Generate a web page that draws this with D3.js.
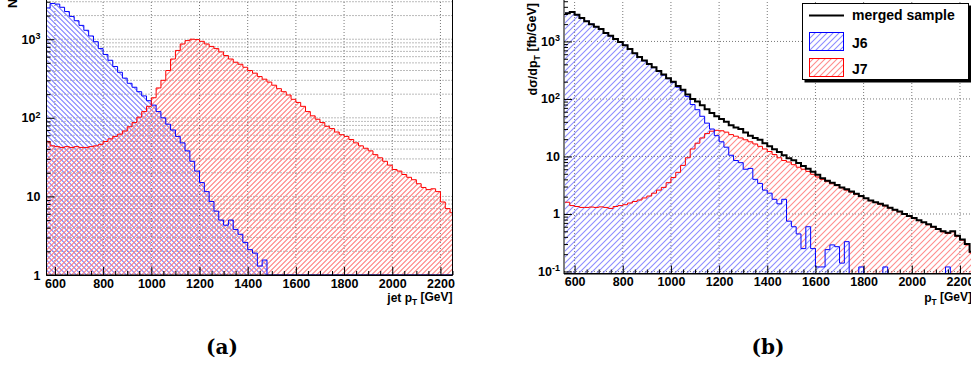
<!DOCTYPE html>
<html>
<head>
<meta charset="utf-8">
<script src="https://cdn.jsdelivr.net/npm/d3@7"></script>
<style>
  body { margin: 0; background: #fff; }
  svg { display: block; font-family: "Liberation Sans", Arial, sans-serif; font-weight: bold; }
</style>
</head>
<body>
<svg id="chart" width="971" height="367"></svg>
<script>
// histogram binning (GeV)
const binStart = 560;
const binWidth = 20;

// (a) jet pT spectra, events per bin
const j6A = [2500,2850,2800,2550,2250,1950,1720,1500,1300,1100,
  930,760,640,540,450,380,320,275,245,215,
  190,165,145,120,100,83,70,58,48,38,
  28,21,15,11.5,8.6,6.5,5,4.3,5,3.8,
  3.3,2.6,2.1,1.9,1.3,1.55,0,0,0,0,
  0,0,0,0,0,0,0,0,0,0,
  0,0,0,0,0,0,0,0,0,0,
  0,0,0,0,0,0,0,0,0,0,
  0,0,0,0,0];
const j7A = [50,44,43,42,43,42,43,42,42,43,
  44,46,50,54,58,62,68,77,87,102,
  120,140,180,240,300,400,560,720,870,960,
  1000,990,940,870,810,760,690,620,560,510,
  480,440,400,370,335,310,285,260,235,215,
  195,172,157,140,120,106,96,87,78,73,
  66,61,58,53,48,44,41,38,34,31,
  28,25,22,21,19,17.5,16.3,14.5,13,12.2,
  12.5,11.5,8.5,7,6.2];

// (b) dsigma/dpT [fb/GeV]
const j6B = [3100,3250,2900,2550,2250,2000,1800,1650,1400,1250,
  1100,980,860,740,620,530,460,400,350,300,
  260,225,195,160,138,110,80,65,50,38,
  30,23,18,14.5,10.5,8.5,7.8,6,6.2,4,
  3.4,2.6,2.3,1.8,1.5,1.8,0.75,0.6,0.45,0.25,
  0.6,0.25,0.12,0.12,0.24,0.29,0.27,0.14,0.33,0,
  0,0.12,0,0,0,0,0.12,0,0,0,
  0,0,0,0,0,0,0,0,0,0.12,
  0,0,0,0,0];
const j7B = [1.6,1.4,1.35,1.3,1.3,1.32,1.3,1.33,1.3,1.25,
  1.35,1.4,1.45,1.55,1.65,1.75,1.9,2.05,2.3,2.6,
  2.9,3.5,4.3,5.3,7,9.5,13.5,17,21,25,
  27.5,28.5,28,26.5,24,22.5,21,19.5,18,16.5,
  15,13.5,12.2,10.8,9.5,8.5,8,7.2,6.5,6,
  5.5,4.9,4.4,4,3.65,3.35,3.1,2.85,2.6,2.4,
  2.2,2,1.85,1.7,1.58,1.48,1.38,1.27,1.17,1.09,
  0.99,0.91,0.84,0.77,0.71,0.65,0.59,0.54,0.49,0.46,
  0.49,0.41,0.35,0.29,0.21];
const mergedB = [3100,3250,2900,2550,2250,2000,1800,1650,1400,1250,
  1100,980,860,740,625,535,465,405,355,305,
  265,230,200,168,145,120,100,90,78,66,
  57,50,45,40,35,32,30,26,23,21,
  19.5,17,15,13.4,12,10.5,9.3,8.6,7.7,6.8,
  6.1,5.4,4.8,4.2,3.8,3.5,3.2,2.9,2.7,2.45,
  2.25,2.05,1.88,1.72,1.6,1.5,1.4,1.28,1.18,1.1,
  1,0.92,0.85,0.78,0.72,0.66,0.6,0.55,0.5,0.47,
  0.5,0.42,0.36,0.3,0.22];

const xTicks = [600,800,1000,1200,1400,1600,1800,2000,2200];
const legendLabels = ["merged sample", "J6", "J7"];
const captions = ["(a)", "(b)"];

const svg = d3.select("#chart");
svg.append("rect").attr("width", 971).attr("height", 367).attr("fill", "#fff");
const defs = svg.append("defs");

// hatched fill: diagonal lines clipped to a shape
let clipCount = 0;
function hatchFill(parent, shapeD, color, spacing, dir, x0, x1) {
  const id = "hatch" + (clipCount++);
  defs.append("clipPath").attr("id", id).append("path").attr("d", shapeD);
  const h = 300;
  const gg = parent.append("g").attr("clip-path", `url(#${id})`);
  gg.selectAll("line").data(d3.range(x0 - h, x1 + 1, spacing)).join("line")
    .attr("stroke", color).attr("stroke-width", 1.1)
    .attr("x1", d => d).attr("x2", d => d + h)
    .attr("y1", dir === "/" ? h : 0).attr("y2", dir === "/" ? 0 : h);
}

const edges = d3.range(j6A.length + 1).map(i => binStart + i * binWidth);

// [edge, value, value of the histogram drawn over it]
function stepPoints(values, under) {
  const n = values.length;
  const pts = values.map((v, i) => [edges[i], v, under ? under[i] : 0]);
  pts.push([edges[n], values[n - 1], under ? under[n - 1] : 0]);
  return pts;
}

function supLabel(sel, d) {
  const e = Math.round(Math.log10(d));
  sel.text("");
  if (e === 0) sel.text("1");
  else if (e === 1) sel.text("10");
  else {
    sel.append("tspan").text("10");
    sel.append("tspan").attr("dy", "-0.5em").attr("font-size", "0.72em").text(e);
  }
}

function panel(cfg) {
  const g = svg.append("g");
  const x = d3.scaleLinear().domain(cfg.xDomain).range([cfg.left, cfg.right]);
  const y = d3.scaleLog().domain(cfg.yDomain).range([cfg.bottom, cfg.top]);
  const ymin = cfg.yDomain[0];
  const yv = v => y(Math.max(v, ymin));

  const clipId = "clip" + cfg.name;
  defs.append("clipPath").attr("id", clipId).append("rect")
    .attr("x", cfg.left).attr("y", cfg.top - 5)
    .attr("width", cfg.right - cfg.left).attr("height", cfg.bottom - cfg.top + 6);

  // grid
  const grid = g.append("g").attr("stroke", "#555").attr("stroke-width", 0.8)
    .attr("stroke-dasharray", "1,2");
  grid.selectAll(".gx").data(xTicks).join("line")
    .attr("x1", d => x(d)).attr("x2", d => x(d))
    .attr("y1", cfg.top).attr("y2", cfg.bottom);
  grid.selectAll(".gy").data(cfg.gridY).join("line")
    .attr("x1", cfg.left).attr("x2", cfg.right)
    .attr("y1", d => y(d)).attr("y2", d => y(d));

  const plot = g.append("g").attr("clip-path", `url(#${clipId})`);
  // hatched region between the histogram drawn over it (if any) and the bin value
  const area = d3.area().curve(d3.curveStepAfter)
    .x(d => x(d[0]))
    .y0(d => d[2] > 0 ? yv(Math.min(d[2], d[1])) : cfg.bottom)
    .y1(d => yv(d[1]));
  const line = d3.line().curve(d3.curveStepAfter)
    .x(d => x(d[0])).y(d => yv(d[1]));

  cfg.hists.filter(h => h.hatch).forEach(h => {
    hatchFill(plot, area(stepPoints(h.values, h.under)), h.hatch, cfg.spacing, h.dir, cfg.left, cfg.right);
  });
  cfg.hists.forEach(h => {
    plot.append("path").attr("d", line(stepPoints(h.values)))
      .attr("fill", "none").attr("stroke", h.stroke).attr("stroke-width", h.width);
  });

  // axes
  const minorX = d3.range(600, 2251, 50).filter(v => v % 200 !== 0 && v >= cfg.xDomain[0]);
  g.append("g").attr("transform", `translate(0,${cfg.bottom})`)
    .call(d3.axisBottom(x).tickValues(minorX).tickSize(-4).tickFormat(""))
    .call(a => a.select(".domain").remove());
  const gx = g.append("g").attr("transform", `translate(0,${cfg.bottom})`)
    .call(d3.axisBottom(x).tickValues(xTicks).tickSize(-8).tickPadding(4).tickFormat(d3.format("d")))
    .call(a => a.select(".domain").remove());
  gx.selectAll("text").attr("font-size", 12.5).attr("font-family", null).attr("fill", "#000");

  const minorY = [];
  cfg.decades.forEach(dec => d3.range(2, 10).forEach(m => {
    const v = m * dec;
    if (v > ymin && v < cfg.yDomain[1]) minorY.push(v);
  }));
  g.append("g").attr("transform", `translate(${cfg.left},0)`)
    .call(d3.axisLeft(y).tickValues(minorY).tickSize(-4).tickFormat(""))
    .call(a => a.select(".domain").remove());
  const gy = g.append("g").attr("transform", `translate(${cfg.left},0)`)
    .call(d3.axisLeft(y).tickValues(cfg.decades).tickSize(-8).tickPadding(cfg.yPad))
    .call(a => a.select(".domain").remove());
  gy.selectAll("text").attr("font-size", 12.5).attr("font-family", null).attr("fill", "#000")
    .each(function (d) { supLabel(d3.select(this), d); });

  // frame
  g.append("rect").attr("x", cfg.left).attr("y", cfg.top)
    .attr("width", cfg.right - cfg.left).attr("height", cfg.bottom - cfg.top)
    .attr("fill", "none").attr("stroke", "#000").attr("stroke-width", 1);
  g.append("line").attr("x1", cfg.left).attr("x2", cfg.right)
    .attr("y1", cfg.bottom + 0.5).attr("y2", cfg.bottom + 0.5)
    .attr("stroke", "#000").attr("stroke-width", 1);

  // x title
  const xt = g.append("text").attr("x", cfg.right).attr("y", 302)
    .attr("text-anchor", "end").attr("font-size", 12);
  xt.append("tspan").text(cfg.xTitle);
  xt.append("tspan").attr("dy", "0.35em").attr("font-size", "0.7em").text("T");
  xt.append("tspan").attr("dy", "-0.35em").text(" [GeV]");
}

// panel (a)
const decA = [1, 10, 100, 1000];
const gridA = [];
decA.forEach(dec => d3.range(1, 10).forEach(m => { if (m * dec < 3250) gridA.push(m * dec); }));
panel({
  name: "A", left: 46.5, right: 452.5, top: -1, bottom: 275,
  xDomain: [565, 2250], yDomain: [1, 3250], spacing: 5,
  decades: decA, gridY: gridA, yPad: 6, xTitle: "jet p",
  hists: [
    { values: j6A, hatch: "#7c7cff", dir: "\\", stroke: "#0000ff", width: 1 },
    { values: j7A, hatch: "#ff7c7c", dir: "/", stroke: "#ff0000", width: 1 }
  ]
});
// clipped y title of (a)
svg.append("text").attr("transform", "translate(17,8) rotate(-90)")
  .attr("font-size", 13).text("N");

// panel (b): J6 hatch lies over J7, so J7 hatch only shows above J6
const decB = [0.1, 1, 10, 100, 1000];
panel({
  name: "B", left: 564, right: 972, top: -1, bottom: 273.5,
  xDomain: [556, 2250], yDomain: [0.0923, 5470], spacing: 6,
  decades: decB, gridY: decB, yPad: 4, xTitle: "p",
  hists: [
    { values: j7B, under: j6B, hatch: "#ff8c8c", dir: "/", stroke: "#ff0000", width: 1 },
    { values: j6B, hatch: "#8c8cff", dir: "/", stroke: "#0000ff", width: 1 },
    { values: mergedB, hatch: null, stroke: "#000", width: 2 }
  ]
});

// y title of (b)
const yt = svg.append("text").attr("transform", "translate(537,3) rotate(-90)")
  .attr("text-anchor", "end").attr("font-size", 12.5);
yt.append("tspan").text("d\u03c3/dp");
yt.append("tspan").attr("dy", "0.35em").attr("font-size", "0.7em").text("T");
yt.append("tspan").attr("dy", "-0.35em").text(" [fb/GeV]");

// legend
const lg = svg.append("g");
lg.append("rect").attr("x", 804.5).attr("y", 5.5).attr("width", 167).attr("height", 77).attr("fill", "#000");
lg.append("rect").attr("x", 802.5).attr("y", 3.5).attr("width", 166).attr("height", 76)
  .attr("fill", "#fff").attr("stroke", "#000").attr("stroke-width", 1);
lg.append("line").attr("x1", 809).attr("x2", 844).attr("y1", 15.5).attr("y2", 15.5)
  .attr("stroke", "#000").attr("stroke-width", 2);
[["#8c8cff", "#0000ff", 32.5], ["#ff8c8c", "#ff0000", 58.5]].forEach(([hc, sc, yy]) => {
  hatchFill(lg, `M809.5,${yy}h34v18h-34Z`, hc, 6, "/", 800, 850);
  lg.append("rect").attr("x", 809.5).attr("y", yy).attr("width", 34).attr("height", 18)
    .attr("fill", "none").attr("stroke", sc);
});
[20, 48, 74].forEach((yy, i) => {
  lg.append("text").attr("x", 852).attr("y", yy).attr("font-size", 14).text(legendLabels[i]);
});

// captions
[222, 768].forEach((cx, i) => {
  svg.append("text").attr("x", cx).attr("y", 354).attr("text-anchor", "middle")
    .attr("font-family", "'DejaVu Serif', serif").attr("font-size", 20).text(captions[i]);
});
</script>
</body>
</html>
